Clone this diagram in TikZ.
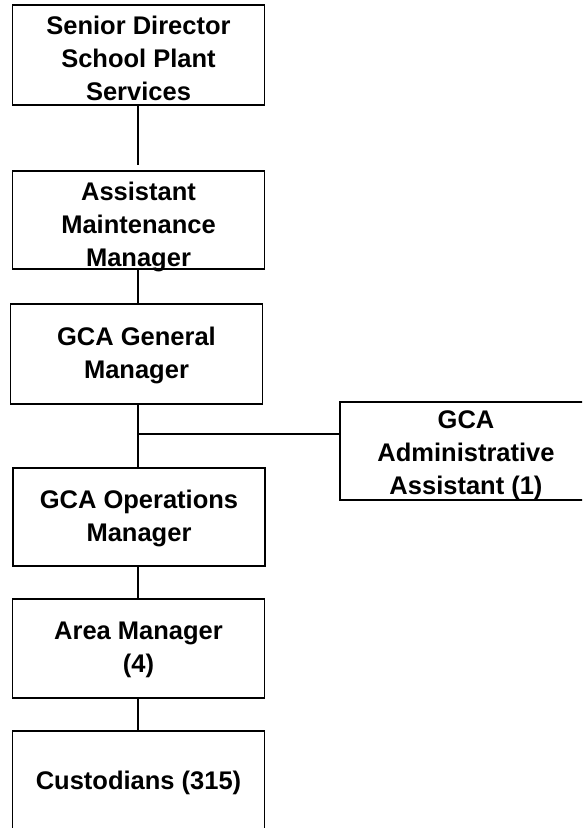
\documentclass[tikz,border=0pt]{standalone}
\usepackage{fontspec}
\setmainfont{Liberation Sans}
\begin{document}
\begin{tikzpicture}[x=1pt,y=-1pt,
  unit/.style={draw=black, line width=1.8pt, minimum width=252pt, inner sep=0pt},
  caption/.style={anchor=north, align=center, inner sep=0pt,
    font=\fontsize{25.5}{33}\selectfont\bfseries},
  link/.style={draw=black, line width=1.5pt}]
  \useasboundingbox (0,0) rectangle (582,828);
  \clip (0,0) rectangle (582,828);

  % boxes of the chain of command
  \node[unit, minimum height=100pt] (dir) at (138.5,55) {};
  \node[unit, minimum height=98pt]  (asm) at (138.5,220) {};
  \node[unit, minimum height=100pt] (gm)  at (136.5,354) {};
  \node[unit, minimum height=98pt]  (adm) at (466,451) {};
  \node[unit, minimum height=98pt]  (ops) at (139,517) {};
  \node[unit, minimum height=99pt]  (area) at (138.5,648.5) {};
  \node[unit, minimum height=100pt] (cus) at (138.5,781) {};

  % titles
  \node[caption] (dirt)  at (138.5,15.6)  {Senior Director\\School Plant\\Services};
  \node[caption] (asmt)  at (138.5,181.6) {Assistant\\Maintenance\\Manager};
  \node[caption] (gmt)   at (136.5,327)   {GCA General\\Manager};
  \node[caption] (admt)  at (466,410)     {GCA\\Administrative\\Assistant (1)};
  \node[caption] (opst)  at (139,489.6)   {GCA Operations\\Manager};
  \node[caption] (areat) at (138.5,621.6) {Area Manager\\(4)};
  \node[caption] (cust)  at (138.5,771)   {Custodians (315)};

  % reporting lines
  \coordinate (j) at (138,434);
  \draw[link, shorten >=5pt] (dir.south -| j) -- (asm.north -| j);
  \draw[link] (asm.south -| j) -- (gm.north -| j);
  \draw[link] (gm.south -| j) -- (ops.north -| j);
  \draw[link] (j) -- (j -| adm.west);
  \draw[link] (ops.south -| j) -- (area.north -| j);
  \draw[link] (area.south -| j) -- (cus.north -| j);
\end{tikzpicture}
\end{document}
